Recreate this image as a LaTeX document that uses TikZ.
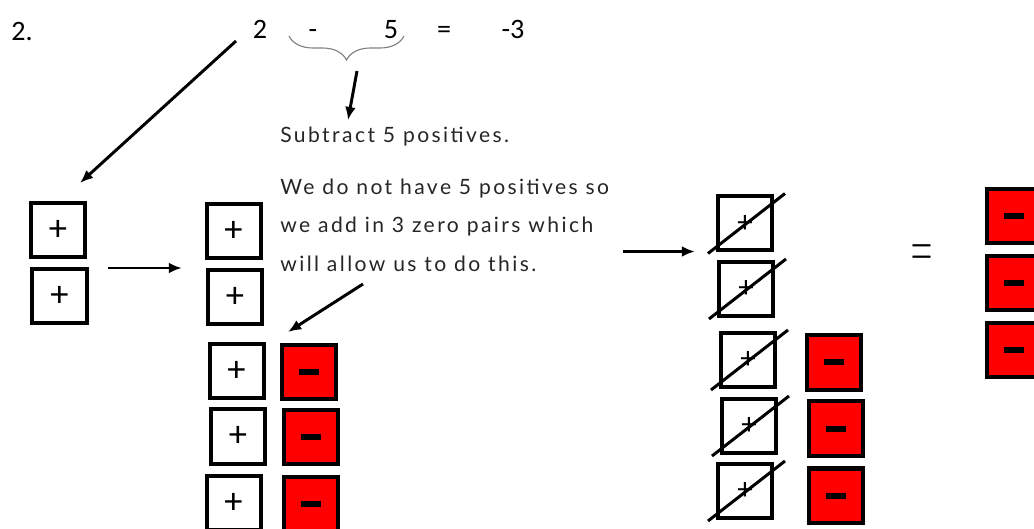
\documentclass[tikz,border=0pt]{standalone}
\usepackage{fontspec}
\setmainfont{Carlito}
\newfontfamily\handfont{Lato}[LetterSpace=11.5]
\usetikzlibrary{arrows.meta,calc,decorations.pathreplacing}

\begin{document}
\begin{tikzpicture}[
    x=0.25mm, y=-0.25mm,
    >={Latex[length=3.3mm,width=2.7mm]},
    arr/.style={->, line width=2.1pt},
    tile/.style={rectangle, draw, line width=1mm, minimum size=13.5mm, inner sep=0pt},
    postile/.style={tile, fill=white, font=\fontsize{26}{26}\selectfont},
    negtile/.style={tile, fill=red},
    cross/.style={line width=0.75mm},
    eq/.style={anchor=base, font=\fontsize{20}{20}\selectfont},
    note/.style={anchor=base west, inner sep=0pt, text=black!85, font=\handfont\fontsize{15}{15}\selectfont}
]
    \useasboundingbox (0,0) rectangle (1034,529);
    \clip (0,0) rectangle (1034,529);

    \node[eq] (num) at (22,41) {2.};
    \node[eq] (two) at (260,39) {2};
    \node[eq] (minus) at (313,39) {-};
    \node[eq] (five) at (391,39) {5};
    \node[eq] (equals) at (444,39) {=};
    \node[eq] (res) at (513,39) {-3};
    \draw[gray, line width=0.8pt, decorate, decoration={brace, mirror, amplitude=6mm}] (289,36) -- (404,36);
    \coordinate (braceTip) at (357,71);
    \coordinate (twoTail) at (236,41);
    \coordinate (whyTail) at (363,284);

    \node[note] (sub) at (280,143) {Subtract 5 positives.};
    \node[note] (why1) at (280,195) {We do not have 5 positives so};
    \node[note] (why2) at (280,233) {we add in 3 zero pairs which};
    \node[note] (why3) at (280,272) {will allow us to do this.};

    % start
    \node[postile] (lt1) at (58,230) {+};
    \node[postile] (lt2) at (59.5,296) {+};

    % with zero pairs
    \node[postile] (mt1) at (233.5,231.5) {+};
    \node[postile] (mt2) at (235,297) {+};
    \node[postile] (mt3) at (236.5,371) {+};
    \node[postile] (mt4) at (238,436.5) {+};
    \node[postile] (mt5) at (233.5,503) {+};
    \node[negtile] (mr1) at (309,372) {\rule{5mm}{1.5mm}};
    \node[negtile] (mr2) at (310.5,437) {\rule{5mm}{1.5mm}};
    \node[negtile] (mr3) at (310.5,504) {\rule{5mm}{1.5mm}};

    % take away
    \foreach \n/\x/\y in {1/745/223.5, 2/746/289, 3/748/360, 4/749/426, 5/745/491} {
        \node[postile, font=\fontsize{22}{22}\selectfont] (ct\n) at (\x,\y) {+};
        \draw[cross] ($(ct\n.south west)+(-8,1)$) -- ($(ct\n.north east)+(11,-1)$);
    }
    \node[negtile] (cr1) at (834,362.5) {\rule{5mm}{1.5mm}};
    \node[negtile] (cr2) at (836,428.5) {\rule{5mm}{1.5mm}};
    \node[negtile] (cr3) at (836,495.5) {\rule{5mm}{1.5mm}};

    \node[font=\fontsize{21}{21}\selectfont] (eqs) at (922,256) {\scalebox{1}[2.2]{$=$}};
    \node[negtile] (rr1) at (1014,216.5) {\rule{5mm}{1.5mm}};
    \node[negtile] (rr2) at (1014,283) {\rule{5mm}{1.5mm}};
    \node[negtile] (rr3) at (1014,350) {\rule{5mm}{1.5mm}};

    \draw[arr] (twoTail) -- ($(lt1.north)+(22,-18)$);
    \draw[arr] (braceTip) -- ($(sub.north west)+(68,-7)$);
    \draw[arr] (whyTail) -- ($(mr1.north west)+(8,-11)$);
    \draw[arr] (lt1.south east) ++(21,9) -- ++(74,0);
    \draw[arr] (ct1.south west) ++(-93,-1) -- ++(72,0);
\end{tikzpicture}
\end{document}
